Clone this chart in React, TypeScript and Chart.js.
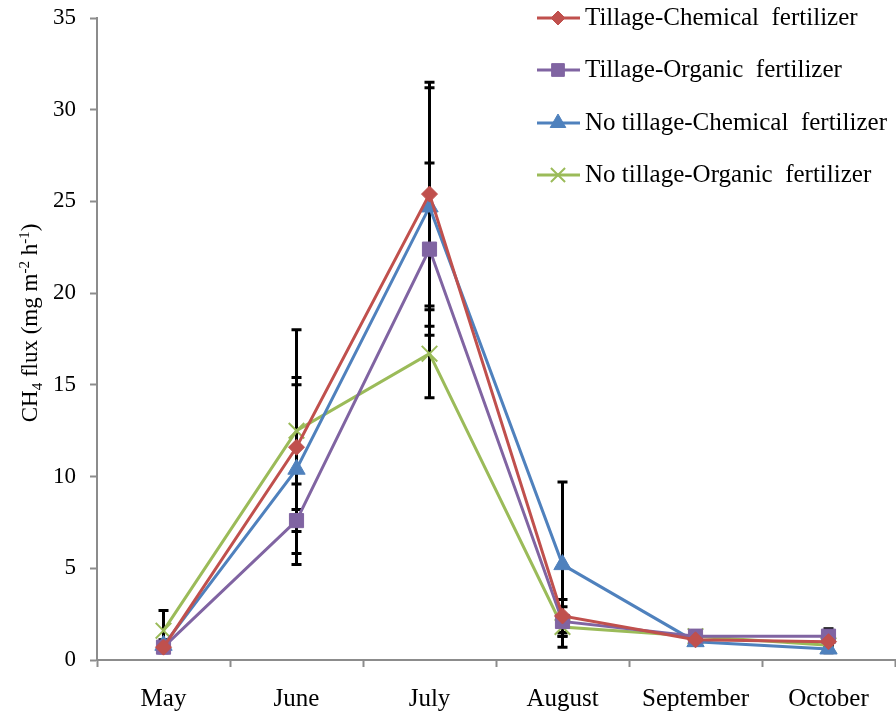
import React, { useEffect, useRef } from 'react';
import { Chart, registerables } from 'chart.js';
import { drawPoint } from 'chart.js/helpers';

Chart.register(...registerables);

const months = ['May', 'June', 'July', 'August', 'September', 'October'];
const seriesNames = [
  'Tillage-Chemical  fertilizer',
  'Tillage-Organic  fertilizer',
  'No tillage-Chemical  fertilizer',
  'No tillage-Organic  fertilizer',
];
const tillageChemical = [0.7, 11.6, 25.4, 2.4, 1.1, 1.0];
const tillageOrganic = [0.7, 7.6, 22.4, 2.1, 1.3, 1.3];
const noTillageChemical = [0.8, 10.4, 24.7, 5.2, 1.0, 0.6];
const noTillageOrganic = [1.6, 12.5, 16.7, 1.8, 1.3, 0.8];

const errTillageChemical = [0.3, 6.4, 6.1, 0.9, 0.2, 0.2];
const errTillageOrganic = [0.2, 0.6, 4.7, 0.8, 0.3, 0.4];
const errNoTillageChemical = [0.3, 4.6, 6.5, 4.5, 0.2, 0.2];
const errNoTillageOrganic = [1.1, 2.9, 2.4, 0.5, 0.2, 0.2];

const yTicks = [0, 5, 10, 15, 20, 25, 30, 35];

const FONT = "'Liberation Serif', 'Times New Roman', serif";
const colors = ['#C0504D', '#8064A2', '#4F81BD', '#9BBB59'];
const styles = [
  { pointStyle: 'rectRot', radius: 8, borderWidth: 1 },
  { pointStyle: 'rect', radius: 10, borderWidth: 1 },
  { pointStyle: 'triangle', radius: 10, borderWidth: 1 },
  { pointStyle: 'crossRot', radius: 11, borderWidth: 2 },
];

const values = [tillageChemical, tillageOrganic, noTillageChemical, noTillageOrganic];
const errors = [errTillageChemical, errTillageOrganic, errNoTillageChemical, errNoTillageOrganic];

const errorBarPlugin = {
  id: 'errorBars',
  beforeDatasetsDraw(chart: any) {
    const { ctx } = chart;
    const x = chart.scales.x;
    const y = chart.scales.y;
    ctx.save();
    ctx.strokeStyle = '#000';
    ctx.lineWidth = 3;
    values.forEach((vals, i) => {
      vals.forEach((v, j) => {
        const e = errors[i][j];
        if (!e) return;
        const px = x.getPixelForValue(j);
        const t = y.getPixelForValue(v + e);
        const b = y.getPixelForValue(v - e);
        ctx.beginPath();
        ctx.moveTo(px, t);
        ctx.lineTo(px, b);
        ctx.moveTo(px - 5, t);
        ctx.lineTo(px + 5, t);
        ctx.moveTo(px - 5, b);
        ctx.lineTo(px + 5, b);
        ctx.stroke();
      });
    });
    ctx.restore();
  },
};

const legendPlugin = {
  id: 'customLegend',
  afterDraw(chart: any) {
    const { ctx } = chart;
    const rows = [18, 70, 123, 175];
    ctx.save();
    seriesNames.forEach((name, i) => {
      const yy = rows[i];
      ctx.strokeStyle = colors[i];
      ctx.lineWidth = 3;
      ctx.beginPath();
      ctx.moveTo(537, yy);
      ctx.lineTo(580, yy);
      ctx.stroke();
      ctx.fillStyle = colors[i];
      ctx.strokeStyle = colors[i];
      ctx.lineWidth = styles[i].borderWidth;
      drawPoint(ctx, { pointStyle: styles[i].pointStyle as any, radius: styles[i].radius - 1, rotation: 0, borderWidth: styles[i].borderWidth } as any, 558, yy);
      ctx.fillStyle = '#000';
      ctx.font = `25px ${FONT}`;
      ctx.textBaseline = 'middle';
      ctx.textAlign = 'left';
      ctx.fillText(name, 585, yy);
    });
    ctx.restore();
  },
};

const yTitlePlugin = {
  id: 'yTitle',
  afterDraw(chart: any) {
    const { ctx } = chart;
    const parts = [
      { t: 'CH', size: 23, dy: 0 },
      { t: '4', size: 15, dy: 5 },
      { t: ' flux (mg m', size: 23, dy: 0 },
      { t: '-2', size: 15, dy: -8 },
      { t: ' h', size: 23, dy: 0 },
      { t: '-1', size: 15, dy: -8 },
      { t: ')', size: 23, dy: 0 },
    ];
    ctx.save();
    ctx.fillStyle = '#000';
    ctx.textBaseline = 'alphabetic';
    ctx.textAlign = 'left';
    let total = 0;
    parts.forEach((p) => {
      ctx.font = `${p.size}px ${FONT}`;
      total += ctx.measureText(p.t).width;
    });
    ctx.translate(37, 323);
    ctx.rotate(-Math.PI / 2);
    let cx = -total / 2;
    parts.forEach((p) => {
      ctx.font = `${p.size}px ${FONT}`;
      ctx.fillText(p.t, cx, p.dy);
      cx += ctx.measureText(p.t).width;
    });
    ctx.restore();
  },
};

export default function App() {
  const ref = useRef<HTMLCanvasElement | null>(null);
  useEffect(() => {
    if (!ref.current) return;
    const chart = new Chart(ref.current, {
      type: 'line',
      data: {
        labels: months,
        datasets: values.map((vals, i) => ({
          label: seriesNames[i],
          data: vals,
          borderColor: colors[i],
          backgroundColor: colors[i],
          pointBackgroundColor: colors[i],
          pointBorderColor: colors[i],
          borderWidth: 3,
          pointStyle: styles[i].pointStyle as any,
          pointRadius: styles[i].radius,
          pointBorderWidth: styles[i].borderWidth,
          tension: 0,
          fill: false,
          clip: false as any,
        })),
      },
      options: {
        animation: false,
        responsive: true,
        maintainAspectRatio: false,
        layout: { autoPadding: false, padding: { top: 18, right: 1, left: 0, bottom: 0 } },
        plugins: { legend: { display: false }, tooltip: { enabled: false } },
        scales: {
          x: {
            type: 'category',
            offset: true,
            grid: { display: true, drawOnChartArea: false, offset: true, tickLength: 7, tickColor: '#8c8c8c', tickWidth: 2 },
            border: { color: '#8c8c8c', width: 2 },
            ticks: { color: '#000', font: { family: FONT, size: 25 }, padding: 17, maxRotation: 0, autoSkip: false },
            afterFit(s: any) { s.height = 59; s.paddingLeft = 0; s.paddingRight = 0; },
          },
          y: {
            min: 0,
            max: 35,
            afterBuildTicks(s: any) { s.ticks = yTicks.map((v) => ({ value: v })); },
            grid: { display: true, drawOnChartArea: false, tickLength: 7, tickColor: '#8c8c8c', tickWidth: 2 },
            border: { color: '#8c8c8c', width: 2 },
            ticks: { color: '#000', font: { family: FONT, size: 23 }, padding: 14 },
            afterFit(s: any) { s.width = 97; s.paddingTop = 0; s.paddingBottom = 0; },
          },
        },
      },
      plugins: [errorBarPlugin, legendPlugin, yTitlePlugin],
    });
    return () => chart.destroy();
  }, []);
  return (
    <div style={{ position: 'fixed', left: 0, top: 0, width: 896, height: 719, background: '#fff' }}>
      <canvas ref={ref} />
    </div>
  );
}
